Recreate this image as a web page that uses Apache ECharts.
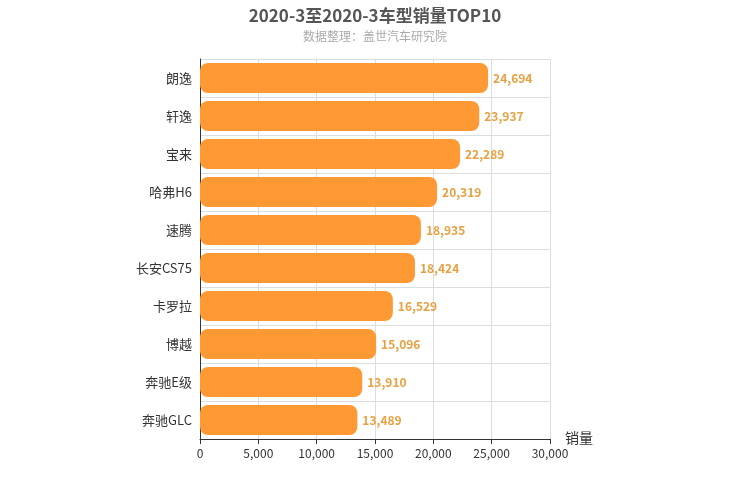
<!DOCTYPE html>
<html><head><meta charset="utf-8">
<script src="https://cdn.jsdelivr.net/npm/echarts@6/dist/echarts.min.js"></script>
<style>html,body{margin:0;padding:0}#c{width:750px;height:500px}</style>
</head><body><div id="c"></div>
<script>
const categories = ['朗逸','轩逸','宝来','哈弗H6','速腾','长安CS75','卡罗拉','博越','奔驰E级','奔驰GLC'];
const sales = [24694,23937,22289,20319,18935,18424,16529,15096,13910,13489];
const chart = echarts.init(document.getElementById('c'));
const F = '"Noto Sans CJK SC", sans-serif';
chart.setOption({
  title:{text:'2020-3至2020-3车型销量TOP10',subtext:'数据整理：盖世汽车研究院',left:'center',top:2,
    textStyle:{fontFamily:F,fontSize:17,fontWeight:'bold',color:'#555'},
    subtextStyle:{fontFamily:F,fontSize:12,color:'#aaa'},itemGap:6},
  grid:{left:200,right:200,top:59,bottom:61},
  xAxis:{type:'value',min:0,max:30000,interval:5000,name:'销量',nameLocation:'end',nameGap:15,
    nameTextStyle:{fontFamily:F,fontSize:14,color:'#333',verticalAlign:'top',padding:[-8,0,0,0]},
    axisLine:{show:true,lineStyle:{color:'#333'}},axisTick:{show:true},
    axisLabel:{fontFamily:F,color:'#333',fontSize:12,formatter:v=>v.toLocaleString('en-US')},
    splitLine:{lineStyle:{color:'#ddd'}}},
  yAxis:{type:'category',data:categories,inverse:true,
    axisLine:{lineStyle:{color:'#333'}},axisTick:{show:false},
    axisLabel:{fontFamily:F,fontSize:13,color:'#333'},
    splitLine:{show:true,lineStyle:{color:'#ddd'}}},
  series:[{type:'bar',data:sales,barWidth:30,
    itemStyle:{color:'#ff9933',borderRadius:8},
    label:{show:true,position:'right',color:'#e8a040',fontFamily:F,fontSize:12,fontWeight:'bold',
      formatter:p=>p.value.toLocaleString('en-US')}}]
});
</script></body></html>
